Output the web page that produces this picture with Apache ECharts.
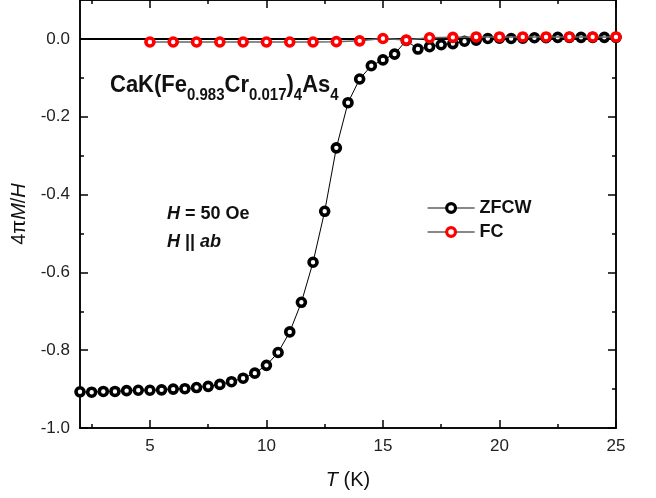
<!DOCTYPE html>
<html>
<head>
<meta charset="utf-8">
<script src="https://cdn.jsdelivr.net/npm/echarts@6/dist/echarts.min.js"></script>
<style>html,body{margin:0;padding:0;background:#fff;}#c{width:656px;height:498px;}</style>
</head>
<body>
<div id="c"></div>
<script>
var zfcwT = [2,2.5,3,3.5,4,4.5,5,5.5,6,6.5,7,7.5,8,8.5,9,9.5,10,10.5,11,11.5,12,12.5,13,13.5,14,14.5,15,15.5,16,16.5,17,17.5,18,18.5,19,19.5,20,20.5,21,21.5,22,22.5,23,23.5,24,24.5,25];
var zfcwM = [-0.907,-0.908,-0.906,-0.906,-0.904,-0.903,-0.903,-0.902,-0.900,-0.899,-0.896,-0.893,-0.888,-0.881,-0.872,-0.859,-0.839,-0.806,-0.753,-0.677,-0.574,-0.443,-0.280,-0.164,-0.103,-0.069,-0.054,-0.039,-0.004,-0.026,-0.020,-0.015,-0.012,-0.006,-0.003,0.001,0.002,0.001,0.002,0.003,0.003,0.004,0.004,0.004,0.004,0.004,0.004];
var fcT = [5,6,7,8,9,10,11,12,13,14,15,16,17,18,19,20,21,22,23,24,25];
var fcM = [-0.008,-0.008,-0.008,-0.008,-0.008,-0.008,-0.008,-0.008,-0.007,-0.005,0.001,-0.003,0.003,0.004,0.005,0.005,0.005,0.005,0.005,0.005,0.005];
var xMajorTicks = [5,10,15,20,25];
var xMinorTicks = [2.5,7.5,12.5,17.5,22.5];
var yMajorTicks = [-1,-0.8,-0.6,-0.4,-0.2,0];
var yMinorTicks = [-0.9,-0.7,-0.5,-0.3,-0.1];
var xRange = [2,25];
var yRange = [-1,0.1];

function pairs(a,b){return a.map(function(v,i){return [v,b[i]];});}

var FONT = '"Liberation Sans", Arial, sans-serif';
var axisLineStyle = {color:'#000', width:1.5};

function xAx(pos, ticks, len, labels){
  return {
    type:'value', position:pos, min:xRange[0], max:xRange[1],
    axisLine:{show:true, onZero:false, lineStyle:axisLineStyle},
    axisTick:{show:true, inside:true, length:len, customValues:ticks, lineStyle:{color:'#000', width:1.5}},
    axisLabel:{show:labels, customValues:ticks, margin:10, color:'#222', fontSize:17, fontFamily:FONT},
    splitLine:{show:false}
  };
}
function yAx(pos, ticks, len, labels){
  return {
    type:'value', position:pos, min:yRange[0], max:yRange[1],
    axisLine:{show:true, onZero:false, lineStyle:axisLineStyle},
    axisTick:{show:true, inside:true, length:len, customValues:ticks, lineStyle:{color:'#000', width:1.5}},
    axisLabel:{show:labels, customValues:ticks, margin:10, color:'#222', fontSize:17, fontFamily:FONT,
      formatter:function(v){return v.toFixed(1);}},
    splitLine:{show:false}
  };
}

var xAxes = [xAx('bottom', xMajorTicks, 8, true), xAx('bottom', xMinorTicks, 4, false), xAx('top', xMajorTicks, 8, false), xAx('top', xMinorTicks, 4, false)];
xAxes[0].name = '{i|T}{n| (K)}';
xAxes[0].nameLocation = 'middle';
xAxes[0].nameGap = 42;
xAxes[0].nameTextStyle = {rich:{i:{fontSize:20, fontStyle:'italic', fontFamily:FONT, color:'#111'}, n:{fontSize:20, fontFamily:FONT, color:'#111'}}};

var yAxes = [yAx('left', yMajorTicks, 8, true), yAx('left', yMinorTicks, 4, false), yAx('right', yMajorTicks, 8, false), yAx('right', yMinorTicks, 4, false)];
yAxes[0].name = '{n|4π}{i|M}{n|/}{i|H}';
yAxes[0].nameLocation = 'middle';
yAxes[0].nameRotate = 90;
yAxes[0].nameGap = 48;
yAxes[0].nameTextStyle = {rich:{i:{fontSize:20, fontStyle:'italic', fontFamily:FONT, color:'#111'}, n:{fontSize:20, fontFamily:FONT, color:'#111'}}};

var chart = echarts.init(document.getElementById('c'), null, {renderer:'canvas'});
chart.setOption({
  animation:false,
  backgroundColor:'#fff',
  grid:{left:80, right:40, top:-2, bottom:70, containLabel:false},
  xAxis:xAxes,
  yAxis:yAxes,
  legend:{
    orient:'vertical', left:422, top:194, itemWidth:47, itemHeight:11, itemGap:6,
    lineStyle:{color:'#111', width:1.2},
    itemStyle:{borderWidth:3.2},
    textStyle:{fontSize:18, fontWeight:'bold', fontFamily:FONT, color:'#111'},
    data:['ZFCW','FC']
  },
  series:[
    {
      type:'line', name:'zero', data:pairs(xRange,[0,0]), symbol:'none', z:1, silent:true,
      lineStyle:{color:'#000', width:2}
    },
    {
      type:'line', name:'ZFCW', data:pairs(zfcwT,zfcwM), z:2,
      symbol:'circle', symbolSize:8,
      itemStyle:{color:'#fff', borderColor:'#000', borderWidth:3.6},
      lineStyle:{color:'#000', width:1}
    },
    {
      type:'line', name:'FC', data:pairs(fcT,fcM), z:3,
      symbol:'circle', symbolSize:8,
      itemStyle:{color:'#fff', borderColor:'#f00', borderWidth:3.6},
      lineStyle:{color:'#666', width:1.5}
    }
  ],
  graphic:[
    {
      type:'text', left:110, top:73, scaleY:1.1,
      style:{
        text:'{m|CaK(Fe}{s|0.983}{m|Cr}{s|0.017}{m|)}{s|4}{m|As}{s|4}',
        rich:{
          m:{fontSize:22, fontWeight:'bold', fontFamily:FONT, fill:'#111', lineHeight:34, verticalAlign:'middle'},
          s:{fontSize:15, fontWeight:'bold', fontFamily:FONT, fill:'#111', lineHeight:15, verticalAlign:'bottom'}
        }
      }
    },
    {
      type:'text', left:167, top:205,
      style:{
        text:'{i|H}{b| = 50 Oe}',
        rich:{
          i:{fontSize:18, fontWeight:'bold', fontStyle:'italic', fontFamily:FONT, fill:'#111'},
          b:{fontSize:18, fontWeight:'bold', fontFamily:FONT, fill:'#111'}
        }
      }
    },
    {
      type:'text', left:167, top:233,
      style:{
        text:'{i|H}{b| || }{i|ab}',
        rich:{
          i:{fontSize:18, fontWeight:'bold', fontStyle:'italic', fontFamily:FONT, fill:'#111'},
          b:{fontSize:18, fontWeight:'bold', fontFamily:FONT, fill:'#111'}
        }
      }
    }
  ]
});
</script>
</body>
</html>
